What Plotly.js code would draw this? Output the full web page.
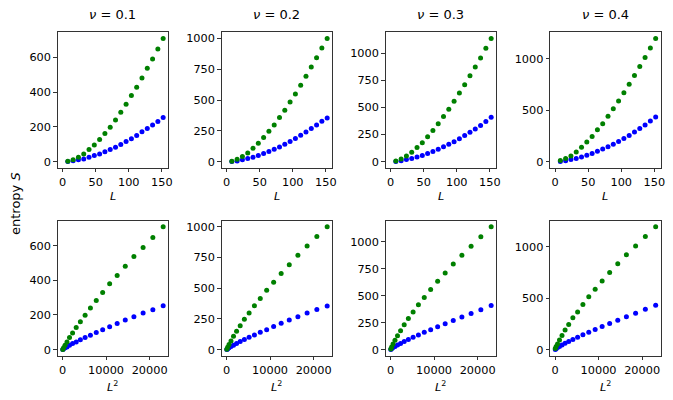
<!DOCTYPE html>
<html>
<head>
<meta charset="utf-8">
<script src="https://cdn.plot.ly/plotly-3.0.1.min.js"></script>
<style>html,body{margin:0;padding:0;background:#fff;}#chart{width:673px;height:400px;}</style>
</head>
<body>
<div id="chart"></div>
<script>
// ---- data ----
const L  = [8,16,24,32,40,48,56,64,72,80,88,96,104,112,120,128,136,144,152];
const L2 = [64,256,576,1024,1600,2304,3136,4096,5184,6400,7744,9216,10816,12544,14400,16384,18496,20736,23104];
const nuLabels = ["0.1","0.2","0.3","0.4"];

const green01 = [1,11,25,44,69,96,127,161,198,240,284,330,380,428,481,537,590,648,709];
const green02 = [3,19,41,70,108,149,195,246,297,357,416,484,549,619,692,768,843,922,1000];
const green03 = [6,24,52,86,129,174,230,288,349,416,483,557,633,710,793,875,958,1047,1138];
const green04 = [10,29,55,93,138,190,244,309,367,440,514,588,669,752,836,923,1010,1103,1196];

const blue01 = [0,4,10,15,25,35,44,56,69,82,98,115,132,150,171,190,211,230,253];
const blue02 = [0,5,14,24,35,49,65,81,100,119,141,162,187,214,241,268,297,327,354];
const blue03 = [0,8,18,28,42,57,74,93,114,136,160,184,211,240,270,302,334,370,409];
const blue04 = [0,8,19,30,45,61,79,99,121,144,169,195,224,254,286,320,355,393,433];

const yTickStep = [200,250,250,500];

// ---- build ----
const greens = [green01,green02,green03,green04];
const blues  = [blue01,blue02,blue03,blue04];
const W = 673, H = 400;
const colLeft = [57.5,221.5,385.5,550];
const colW = 110.7;
const rowTop = [32.3,220.7];
const rowH = [135.4,135.0];
const FS = 11.3;

function pad(lo,hi){const p=0.05*(hi-lo);return [lo-p,hi+p];}

const traces = [];
const layout = {
  width: W, height: H,
  margin: {l:0,r:0,t:0,b:0},
  paper_bgcolor:'#fff', plot_bgcolor:'#fff',
  showlegend:false,
  font:{family:'DejaVu Sans', size:FS, color:'#000'},
  annotations: []
};

const axStyle = {
  showline:true, mirror:true, linecolor:'#000', linewidth:0.8,
  ticks:'outside', ticklen:3.5, tickwidth:0.8, tickcolor:'#000',
  showgrid:false, zeroline:false,
  exponentformat:'none', separatethousands:false, tickformat:'d',
  tickfont:{family:'DejaVu Sans', size:FS, color:'#000'}
};

let k = 0;
for (let r=0;r<2;r++){
  for (let c=0;c<4;c++){
    k++;
    const xs = r===0 ? L : L2;
    const xa = 'x'+(k===1?'':k), ya='y'+(k===1?'':k);
    traces.push({x:xs, y:blues[c], type:'scatter', mode:'markers', xaxis:xa, yaxis:ya,
      marker:{color:'#0000ff', size:5}, hoverinfo:'skip'});
    traces.push({x:xs, y:greens[c], type:'scatter', mode:'markers', xaxis:xa, yaxis:ya,
      marker:{color:'#008000', size:5}, hoverinfo:'skip'});
    const allY = blues[c].concat(greens[c]);
    const yr = pad(Math.min(0,...allY), Math.max(...allY));
    const xr = pad(0, Math.max(...xs));
    const x0 = colLeft[c]/W, x1 = (colLeft[c]+colW)/W;
    const y1 = 1 - rowTop[r]/H, y0 = 1 - (rowTop[r]+rowH[r])/H;
    layout['xaxis'+(k===1?'':k)] = Object.assign({}, axStyle, {
      domain:[x0,x1], range:xr, anchor:ya,
      tickmode:'linear', tick0:0, dtick: r===0?50:10000
    });
    layout['yaxis'+(k===1?'':k)] = Object.assign({}, axStyle, {
      domain:[y0,y1], range:yr, anchor:xa,
      tickmode:'linear', tick0:0, dtick: yTickStep[c]
    });
    const cx = (colLeft[c]+colW/2)/W;
    if (r===0){
      layout.annotations.push({xref:'paper', yref:'paper', x:cx, y:1-15/H, xanchor:'center', yanchor:'middle',
        text:'<i>ν</i> = '+nuLabels[c], showarrow:false, font:{family:'DejaVu Sans', size:13, color:'#000'}});
      layout.annotations.push({xref:'paper', yref:'paper', x:cx, y:1-196/H, xanchor:'center', yanchor:'middle',
        text:'<i>L</i>', showarrow:false, font:{family:'DejaVu Sans', size:FS, color:'#000'}});
    } else {
      layout.annotations.push({xref:'paper', yref:'paper', x:cx, y:1-377/H, xanchor:'center', yanchor:'top',
        text:'<i>L</i><sup>2</sup>', showarrow:false, font:{family:'DejaVu Sans', size:FS, color:'#000'}});
    }
  }
}
layout.annotations.push({xref:'paper', yref:'paper', x:15/W, y:1-204/H, xanchor:'center', yanchor:'middle',
  textangle:-90, text:'entropy <i>S</i>', showarrow:false, font:{family:'DejaVu Sans', size:13, color:'#000'}});

Plotly.newPlot('chart', traces, layout, {staticPlot:true, displayModeBar:false});
</script>
</body>
</html>
